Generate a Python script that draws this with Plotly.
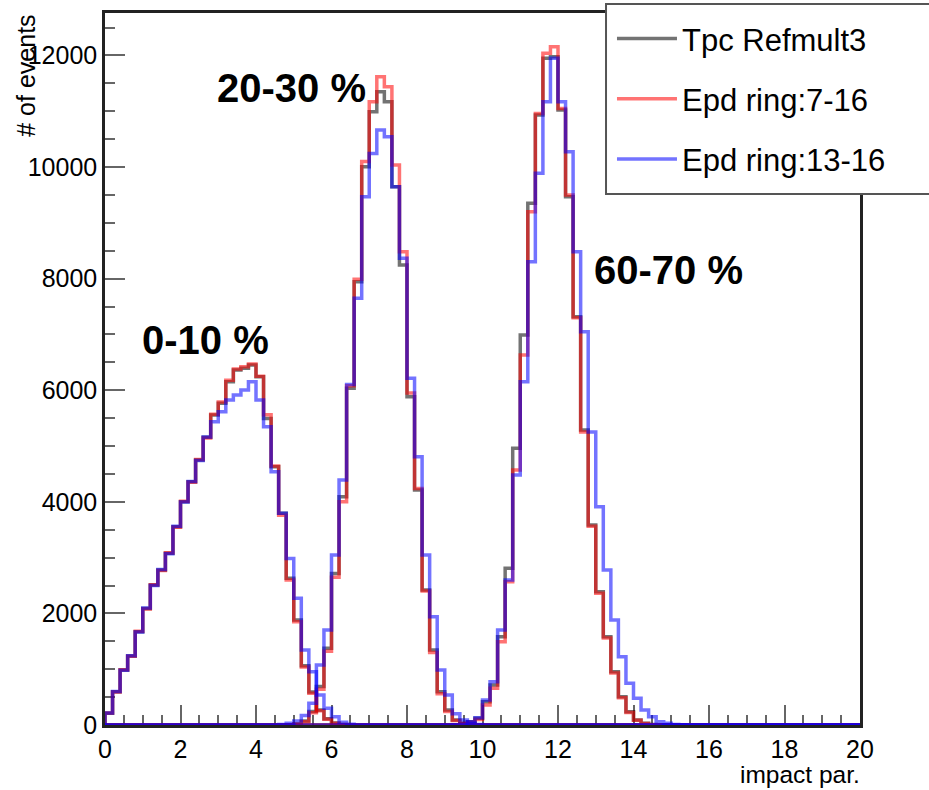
import plotly.graph_objects as go

# ---- data (bin width 0.2, 100 bins over 0..20) ----
n_bins = 100
bin_width = 0.2

# 0-10 % centrality class (first bin index 0)
tpc_0_10 = [209, 597, 986, 1236, 1672, 2090, 2509, 2778, 3076, 3554, 4002, 4360, 4749, 5155, 5555, 5764,
            6152, 6362, 6392, 6451, 6242, 5495, 4629, 3793, 2628, 1882, 1060, 590, 269, 110, 35, 8]
epd7_0_10 = [215, 590, 990, 1230, 1680, 2080, 2515, 2770, 3085, 3545, 4010, 4350, 4760, 5145, 5570, 5790,
             6180, 6380, 6420, 6470, 6250, 5560, 4640, 3760, 2600, 1850, 1040, 570, 255, 105, 30, 8]
epd13_0_10 = [215, 600, 980, 1240, 1665, 2095, 2500, 2785, 3070, 3560, 3995, 4365, 4740, 5160, 5436, 5615,
              5824, 5914, 6003, 6152, 5824, 5346, 4540, 3793, 2986, 2270, 1344, 956, 538, 299, 149, 50, 15]
start_0_10 = 0

# 20-30 % centrality class (first bin index 23)
tpc_20_30 = [2, 5, 20, 70, 240, 690, 1374, 2717, 4092, 6033, 7944, 10005, 10990, 11349, 11168, 9646,
             8243, 5883, 4211, 2419, 1344, 597, 269, 90, 30, 8]
epd7_20_30 = [2, 5, 18, 60, 220, 640, 1320, 2650, 4000, 6080, 7990, 10100, 11168, 11618, 11437, 10035,
              8482, 5950, 4240, 2400, 1300, 560, 240, 80, 25, 6]
epd13_20_30 = [10, 30, 70, 170, 390, 1075, 1702, 3046, 4390, 6100, 7646, 9467, 10244, 10662, 10543, 9646,
               8363, 6213, 4808, 3046, 1941, 986, 537, 201, 90, 30, 8]
start_20_30 = 23

# 60-70 % centrality class (first bin index 46)
tpc_60_70 = [5, 20, 60, 120, 418, 717, 1583, 2808, 4958, 6989, 9349, 10931, 11947, 11977, 11021, 9467,
             7317, 5286, 3584, 2389, 1583, 956, 508, 239, 90, 30, 8]
epd7_60_70 = [4, 15, 50, 100, 358, 657, 1493, 2569, 4570, 6630, 9199, 10961, 12037, 12156, 11050, 9500,
              7300, 5250, 3560, 2360, 1560, 930, 490, 225, 85, 25, 6]
epd13_60_70 = [5, 20, 60, 130, 448, 777, 1702, 2598, 4480, 6152, 8303, 9886, 11170, 11947, 11170, 10274,
               8482, 7048, 5250, 3912, 2778, 1882, 1225, 747, 478, 269, 149, 60, 30, 10, 3]
start_60_70 = 46

series_names = ["Tpc Refmult3", "Epd ring:7-16", "Epd ring:13-16"]
series_colors = ["rgba(0,0,0,0.55)", "rgba(255,0,0,0.55)", "rgba(0,0,255,0.55)"]
class_labels = ["0-10 %", "20-30 %", "60-70 %"]
label_pos_x = [0.93, 2.91, 12.9]
label_pos_y = [6900, 11420, 8150]

x_ticks = list(range(0, 21, 2))
y_ticks = list(range(0, 12001, 2000))


def full_hist(values, start):
    h = [0] * n_bins
    for k, v in enumerate(values):
        h[start + k] = v
    return h


def step_xy(h):
    xs = [0.0] + [round(i * bin_width, 3) for i in range(n_bins)] + [n_bins * bin_width]
    ys = [0] + list(h) + [h[-1]]
    return xs, ys


groups = [
    [(tpc_0_10, start_0_10), (tpc_20_30, start_20_30), (tpc_60_70, start_60_70)],
    [(epd7_0_10, start_0_10), (epd7_20_30, start_20_30), (epd7_60_70, start_60_70)],
    [(epd13_0_10, start_0_10), (epd13_20_30, start_20_30), (epd13_60_70, start_60_70)],
]

FONT = "Liberation Sans, Arial, Helvetica, sans-serif"

fig = go.Figure()
for gi, (name, color, hists) in enumerate(zip(series_names, series_colors, groups)):
    for ci, (vals, st) in enumerate(hists):
        xs, ys = step_xy(full_hist(vals, st))
        fig.add_trace(go.Scatter(
            x=xs, y=ys, mode="lines", line=dict(color=color, width=3.5, shape="hv"),
            name=name, legendgroup=name, showlegend=(ci == 0), hoverinfo="skip"))

for txt, lx, ly in zip(class_labels, label_pos_x, label_pos_y):
    fig.add_annotation(x=lx, y=ly, xref="x", yref="y", text="<b>" + txt + "</b>", showarrow=False,
                       xanchor="left", yanchor="middle", font=dict(family=FONT, size=40, color="black"))

fig.add_annotation(x=1.003, y=-0.0913, xref="paper", yref="paper", text="impact par.", showarrow=False,
                   xanchor="right", yanchor="bottom", font=dict(family=FONT, size=24.5, color="black"))
fig.add_annotation(x=-0.105, y=1.0, xref="paper", yref="paper", text="# of events", showarrow=False,
                   textangle=-90, xanchor="center", yanchor="top", font=dict(family=FONT, size=25, color="black"))

# legend frame (ROOT-style TLegend box that runs past the right edge of the canvas)
fig.add_shape(type="rect", xref="paper", yref="paper", x0=0.6636, x1=1.12, y0=0.7458, y1=1.0126,
              fillcolor="white", line=dict(color="#555", width=2), layer="above")

axis_common = dict(showgrid=False, zeroline=False, showline=True, mirror=True, linecolor="#222",
                   linewidth=2.5, ticks="inside", ticklen=20, tickwidth=2, tickcolor="#666",
                   tickfont=dict(family=FONT, size=25, color="black"), layer="below traces")

fig.update_xaxes(range=[0, 20], tickvals=x_ticks, ticktext=[str(v) for v in x_ticks],
                 minor=dict(dtick=0.5, ticklen=10, tickwidth=2, tickcolor="#666", ticks="inside"),
                 **axis_common)
fig.update_yaxes(range=[0, 12760], tickvals=y_ticks, ticktext=[str(v) for v in y_ticks],
                 minor=dict(dtick=500, ticklen=10, tickwidth=2, tickcolor="#666", ticks="inside"),
                 **axis_common)

fig.update_layout(
    width=929, height=790,
    margin=dict(l=105, r=69, t=13, b=65, autoexpand=False),
    plot_bgcolor="white", paper_bgcolor="white",
    font=dict(family=FONT, size=25, color="black"),
    legend=dict(x=0.6715, y=1.0126, xanchor="left", yanchor="top", bgcolor="rgba(0,0,0,0)",
                borderwidth=0, font=dict(family=FONT, size=31, color="black"),
                tracegroupgap=17, itemwidth=60,
                title=dict(text=" ", font=dict(size=6))),
)

fig.write_html("out.html")
